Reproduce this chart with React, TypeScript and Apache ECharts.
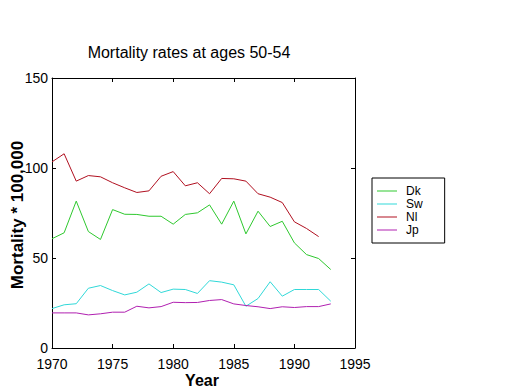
import React, { useEffect, useRef } from "react";
import * as echarts from "echarts";

const years = [1970, 1971, 1972, 1973, 1974, 1975, 1976, 1977, 1978, 1979, 1980, 1981, 1982, 1983, 1984, 1985, 1986, 1987, 1988, 1989, 1990, 1991, 1992, 1993];
const dk = [60.7, 64, 81.6, 64.7, 60.3, 76.9, 74.3, 74.2, 73.2, 73.2, 68.8, 74.2, 75.1, 79.5, 68.8, 81.6, 63.4, 76, 67.5, 70.4, 58.4, 51.9, 49.7, 43.6];
const sw = [21.9, 24, 24.6, 33.2, 34.7, 31.9, 29.5, 31, 35.6, 30.8, 32.7, 32.5, 30.3, 37.4, 36.6, 35.1, 23.2, 27.5, 36.8, 28.8, 32.5, 32.5, 32.5, 26];
const nl = [103.4, 107.9, 92.7, 95.8, 95.1, 91.8, 89, 86.4, 87.3, 95.4, 98, 90.1, 91.8, 85.7, 94.2, 94, 92.7, 85.7, 83.8, 80.8, 70.1, 66.4, 61.9];
const jp = [19.5, 19.5, 19.5, 18.4, 19, 19.9, 19.9, 23.2, 22.3, 23, 25.4, 25.2, 25.3, 26.4, 26.9, 24.5, 23.6, 22.9, 21.9, 22.9, 22.5, 23, 23, 24.5];
const seriesNames = ["Dk", "Sw", "Nl", "Jp"];
const seriesValues = [dk, sw, nl, jp];
const seriesColors = ["#2ec82e", "#30d8d8", "#b01020", "#b020b0"];
const xTicks = { min: 1970, max: 1995, interval: 5 };
const yTicks = { min: 0, max: 150, interval: 50 };

const tickFont = { fontFamily: "Liberation Sans, Arial, sans-serif", fontSize: 14, color: "#000" };

export default function App() {
  const ref = useRef<HTMLDivElement>(null);
  useEffect(() => {
    if (!ref.current) return;
    const chart = echarts.init(ref.current, undefined, { renderer: "svg" });
    const axisLine = { onZero: false, lineStyle: { color: "#000", width: 1 } };
    const axisTick = { inside: true, length: 4, lineStyle: { color: "#000" } };
    chart.setOption({
      animation: false,
      backgroundColor: "#fff",
      grid: { left: 52, top: 78, right: 165, bottom: 42, containLabel: false },
      xAxis: [
        {
          type: "value", position: "bottom", ...xTicks,
          axisLine, axisTick, splitLine: { show: false },
          axisLabel: { ...tickFont, lineHeight: 14, margin: 9, formatter: (v: number) => String(v) },
        },
        {
          type: "value", position: "top", ...xTicks,
          axisLine, axisTick, splitLine: { show: false },
          axisLabel: { show: false },
        },
      ],
      yAxis: [
        {
          type: "value", position: "left", ...yTicks,
          axisLine, axisTick, splitLine: { show: false },
          axisLabel: { ...tickFont, lineHeight: 12, margin: 4 },
        },
        {
          type: "value", position: "right", ...yTicks,
          axisLine, axisTick, splitLine: { show: false },
          axisLabel: { show: false },
        },
      ],
      legend: {
        orient: "vertical",
        left: 372,
        top: 178,
        data: seriesNames.map((n) => ({ name: n, icon: "rect" })),
        borderColor: "#000",
        borderWidth: 1,
        padding: [7, 22, 7, 5],
        itemWidth: 20,
        itemHeight: 1,
        itemGap: 1,
        textStyle: { fontFamily: "Liberation Sans, Arial, sans-serif", fontSize: 12, lineHeight: 12, color: "#000", padding: [0, 0, 0, 4] },
      },
      series: seriesNames.map((name, i) => ({
        name,
        type: "line",
        xAxisIndex: 0,
        yAxisIndex: 0,
        symbol: "none",
        data: seriesValues[i].map((v, j) => [years[j], v]),
        lineStyle: { color: seriesColors[i], width: 1 },
        itemStyle: { color: seriesColors[i] },
      })),
      graphic: [
        {
          type: "text", x: 189, y: 52,
          style: { text: "Mortality rates at ages 50-54", fontFamily: "Liberation Sans, Arial, sans-serif", fontSize: 16, fill: "#000", textAlign: "center", textVerticalAlign: "middle" },
        },
        {
          type: "text", x: 202, y: 380,
          style: { text: "Year", fontFamily: "Liberation Sans, Arial, sans-serif", fontSize: 16, fontWeight: "bold", fill: "#000", textAlign: "center", textVerticalAlign: "middle" },
        },
        {
          type: "text", x: 17, y: 215, rotation: Math.PI / 2,
          style: { text: "Mortality * 100,000", fontFamily: "Liberation Sans, Arial, sans-serif", fontSize: 17, fontWeight: "bold", fill: "#000", textAlign: "center", textVerticalAlign: "middle" },
        },
      ],
    });
    return () => chart.dispose();
  }, []);
  return <div ref={ref} style={{ position: "fixed", left: 0, top: 0, width: 520, height: 390 }} />;
}
